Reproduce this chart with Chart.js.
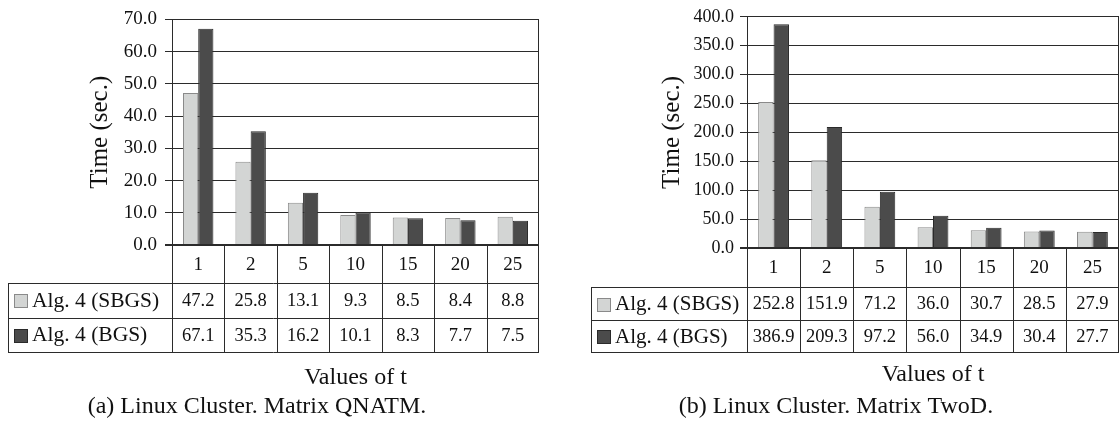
<!DOCTYPE html>
<html>
<head>
<meta charset="utf-8">
<script src="https://cdn.jsdelivr.net/npm/chart.js@4.4.1/dist/chart.umd.min.js"></script>
<style>
  body { margin: 0; background: #fff; }
  .wrap { position: absolute; top: 0; height: 426px; }
  #left { left: 0; width: 560px; }
  #right { left: 560px; width: 559px; }
</style>
</head>
<body>
<div class="wrap" id="left"><canvas id="chartA" width="560" height="426"></canvas></div>
<div class="wrap" id="right"><canvas id="chartB" width="559" height="426"></canvas></div>
<script>
const tValues = ['1', '2', '5', '10', '15', '20', '25'];
const seriesNames = ['Alg. 4 (SBGS)', 'Alg. 4 (BGS)'];
const qnatmSbgs = [47.2, 25.8, 13.1, 9.3, 8.5, 8.4, 8.8];
const qnatmBgs = [67.1, 35.3, 16.2, 10.1, 8.3, 7.7, 7.5];
const twodSbgs = [252.8, 151.9, 71.2, 36.0, 30.7, 28.5, 27.9];
const twodBgs = [386.9, 209.3, 97.2, 56.0, 34.9, 30.4, 27.7];
const qnatmAxis = { max: 70, step: 10 };
const twodAxis = { max: 400, step: 50 };
const captions = ['(a) Linux Cluster. Matrix QNATM.', '(b) Linux Cluster. Matrix TwoD.'];
const xTitle = 'Values of t';
const yTitle = 'Time (sec.)';

const SERIF = '"Liberation Serif", "Times New Roman", serif';
const lightFill = '#d3d5d4', lightEdge = '#8a8a8a';
const darkFill = '#4b4b4b', darkEdge = '#2a2a2a';
const lineCol = '#2b2b2b';
const textCol = '#111';

// draws the data table, column labels, axis label and caption under the plot
const tablePlugin = {
  id: 'dataTable',
  afterDraw(chart, args, opts) {
    const ctx = chart.ctx;
    const area = chart.chartArea;
    const x = chart.scales.x;
    const half = area.width / tValues.length / 2;
    const rows = opts.rows; // [catBottom, row1Bottom, row2Bottom]
    const px = v => Math.round(v) + 0.5;

    ctx.save();
    ctx.strokeStyle = lineCol;
    ctx.lineWidth = 1;
    ctx.beginPath();
    // right border of plot + table
    ctx.moveTo(px(area.right - 1), area.top);
    ctx.lineTo(px(area.right - 1), rows[2]);
    // column boundaries
    for (let i = 0; i < tValues.length; i++) {
      const b = x.getPixelForValue(i) - half;
      ctx.moveTo(px(b), area.bottom);
      ctx.lineTo(px(b), rows[2]);
    }
    // horizontal rules of the table
    rows.forEach(y => {
      ctx.moveTo(opts.tableLeft, px(y));
      ctx.lineTo(area.right, px(y));
    });
    ctx.moveTo(px(opts.tableLeft), rows[0]);
    ctx.lineTo(px(opts.tableLeft), rows[2]);
    ctx.stroke();

    ctx.fillStyle = textCol;
    ctx.textAlign = 'center';
    ctx.textBaseline = 'middle';
    ctx.font = '19px ' + SERIF;
    tValues.forEach((t, i) => {
      ctx.fillText(t, x.getPixelForValue(i), (area.bottom + rows[0]) / 2 + 1);
    });

    const rowMids = [(rows[0] + rows[1]) / 2 + 1, (rows[1] + rows[2]) / 2 + 1];
    ctx.font = '18.5px ' + SERIF;
    chart.data.datasets.forEach((ds, r) => {
      ds.data.forEach((v, i) => {
        ctx.fillText(v.toFixed(1), x.getPixelForValue(i), rowMids[r]);
      });
    });

    // legend keys inside the table
    ctx.textAlign = 'left';
    ctx.font = opts.legendSize + 'px ' + SERIF;
    chart.data.datasets.forEach((ds, r) => {
      const sq = 14;
      const sx = opts.tableLeft + 6;
      const sy = Math.round(rowMids[r] - sq / 2);
      ctx.fillStyle = ds.backgroundColor;
      ctx.fillRect(sx, sy, sq, sq);
      ctx.strokeStyle = ds.borderColor;
      ctx.strokeRect(sx + 0.5, sy + 0.5, sq - 1, sq - 1);
      ctx.fillStyle = textCol;
      ctx.fillText(ds.label, sx + sq + 4, rowMids[r]);
    });

    ctx.textAlign = 'center';
    ctx.font = '24px ' + SERIF;
    ctx.fillText(xTitle, (area.left + area.right) / 2, opts.xTitleY);
    ctx.fillText(opts.caption, opts.captionX, 407);
    ctx.restore();
  }
};

function makeChart(id, sbgs, bgs, axis, layout) {
  return new Chart(document.getElementById(id), {
    type: 'bar',
    data: {
      labels: tValues,
      datasets: [
        { label: seriesNames[0], data: sbgs, backgroundColor: lightFill, borderColor: lightEdge, borderWidth: 1 },
        { label: seriesNames[1], data: bgs, backgroundColor: darkFill, borderColor: darkEdge, borderWidth: 1 }
      ]
    },
    options: {
      responsive: false,
      animation: false,
      devicePixelRatio: 1,
      datasets: { bar: { barPercentage: 1, categoryPercentage: 0.58, borderSkipped: 'bottom' } },
      layout: { padding: layout.padding },
      plugins: {
        legend: { display: false },
        tooltip: { enabled: false },
        dataTable: layout.table
      },
      scales: {
        x: { display: false },
        y: {
          min: 0,
          max: axis.max,
          afterFit: s => { s.width = layout.axisWidth; },
          border: { display: true, color: lineCol, width: 1 },
          grid: {
            color: lineCol,
            lineWidth: c => (c.tick && c.tick.value === 0 ? 2 : 1),
            tickLength: 7
          },
          ticks: {
            stepSize: axis.step,
            padding: layout.tickPad,
            color: textCol,
            font: { family: SERIF, size: layout.tickSize },
            callback: v => Number(v).toFixed(1)
          },
          title: {
            display: true,
            text: yTitle,
            color: textCol,
            font: { family: SERIF, size: 25 },
            padding: { top: layout.titlePad, bottom: 0 }
          }
        }
      }
    },
    plugins: [tablePlugin]
  });
}

makeChart('chartA', qnatmSbgs, qnatmBgs, qnatmAxis, {
  padding: { top: 14, right: 21, bottom: 181, left: 0 },
  axisWidth: 172,
  tickPad: 8,
  tickSize: 19,
  titlePad: 85,
  table: { rows: [283, 317.5, 352], tableLeft: 8, legendSize: 21.5, xTitleY: 378, caption: captions[0], captionX: 257 }
});

makeChart('chartB', twodSbgs, twodBgs, twodAxis, {
  padding: { top: 13, right: 0, bottom: 178, left: 0 },
  axisWidth: 187,
  tickPad: 6,
  tickSize: 18,
  titlePad: 97,
  table: { rows: [287, 320, 352], tableLeft: 31, legendSize: 21, xTitleY: 375, caption: captions[1], captionX: 276 }
});
</script>
</body>
</html>
